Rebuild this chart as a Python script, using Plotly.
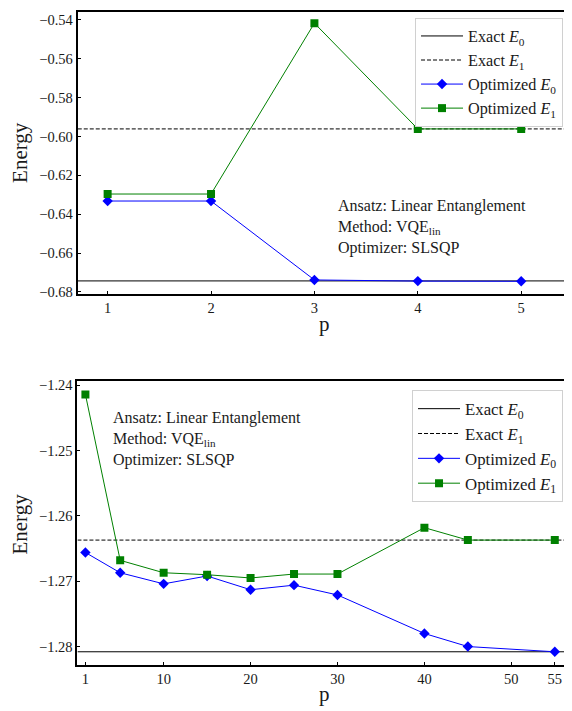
import plotly.graph_objects as go

# ---------------- data ----------------
p_top = [1, 2, 3, 4, 5]
e0_top = [-0.6332, -0.6332, -0.6738, -0.6744, -0.6745]
e1_top = [-0.6296, -0.6296, -0.5417, -0.5961, -0.5961]
exact_e0_top = -0.6743
exact_e1_top = -0.5961

p_bot = [1, 5, 10, 15, 20, 25, 30, 40, 45, 55]
e0_bot = [-1.2656, -1.2687, -1.2704, -1.2692, -1.2713, -1.2706, -1.2721, -1.2780, -1.2800, -1.2808]
e1_bot = [-1.2414, -1.2668, -1.2687, -1.2690, -1.2695, -1.2689, -1.2689, -1.2618, -1.2637, -1.2637]
exact_e0_bot = -1.2808
exact_e1_bot = -1.2637

xticks_top = [1, 2, 3, 4, 5]
yticks_top = [-0.54, -0.56, -0.58, -0.60, -0.62, -0.64, -0.66, -0.68]
xticks_bot = [1, 10, 20, 30, 40, 50, 55]
yticks_bot = [-1.24, -1.25, -1.26, -1.27, -1.28]

xrange_top = [0.711, 5.472]
yrange_top = [-0.6810, -0.53594]
xrange_bot = [0.084, 56.75]
yrange_bot = [-1.28276, -1.2394]

names = ["Exact <i>E</i><sub>0</sub>", "Exact <i>E</i><sub>1</sub>",
         "Optimized <i>E</i><sub>0</sub>", "Optimized <i>E</i><sub>1</sub>"]
info_text = "Ansatz: Linear Entanglement<br>Method: VQE<sub>lin</sub><br>Optimizer: SLSQP"

FONT = "Liberation Serif"
TXT = "#1a1a1a"

# page body has an 8px margin: work in window pixels
OFF = 8
W, H = 572 - OFF, 711 - OFF


def X(px):
    return min(1.0, max(0.0, (px - OFF) / W))


def Y(py):
    return min(1.0, max(0.0, 1 - (py - OFF) / H))


fig = go.Figure()


def add_panel(xs, e0, e1, ex0, ex1, xr, xa, ya, leg):
    fig.add_trace(go.Scatter(x=xr, y=[ex0, ex0], mode="lines", name=names[0],
                             line=dict(color="black", width=1), xaxis=xa, yaxis=ya,
                             legend=leg))
    fig.add_trace(go.Scatter(x=xr, y=[ex1, ex1], mode="lines", name=names[1],
                             line=dict(color="black", width=1, dash="4px,2px"),
                             xaxis=xa, yaxis=ya, legend=leg))
    fig.add_trace(go.Scatter(x=xs, y=e0, mode="lines+markers", name=names[2],
                             line=dict(color="#0000ff", width=1),
                             marker=dict(symbol="diamond", size=8, color="#0000ff"),
                             xaxis=xa, yaxis=ya, legend=leg))
    fig.add_trace(go.Scatter(x=xs, y=e1, mode="lines+markers", name=names[3],
                             line=dict(color="#008000", width=1),
                             marker=dict(symbol="square", size=8, color="#008000"),
                             xaxis=xa, yaxis=ya, legend=leg))


add_panel(p_top, e0_top, e1_top, exact_e0_top, exact_e1_top, xrange_top, "x", "y", "legend")
add_panel(p_bot, e0_bot, e1_bot, exact_e0_bot, exact_e1_bot, xrange_bot, "x2", "y2", "legend2")

axis_common = dict(showline=True, linewidth=2, linecolor="black", mirror=True,
                   ticks="inside", ticklen=3, tickwidth=1, tickcolor="black",
                   showgrid=False, zeroline=False,
                   tickfont=dict(family=FONT, size=14.5, color=TXT))


def fmt(v, nd):
    s = f"{abs(v):.{nd}f}"
    return ("\u2212" + s) if v < 0 else s


legend_common = dict(xanchor="right", yanchor="top", bgcolor="white",
                     bordercolor="#d0d0d0", borderwidth=1, tracegroupgap=0,
                     itemwidth=42)

fig.update_layout(
    width=W, height=H,
    margin=dict(l=0, r=0, t=0, b=0),
    paper_bgcolor="white", plot_bgcolor="white",
    font=dict(family=FONT, color=TXT),
    xaxis=dict(domain=[X(78), 1.0], range=xrange_top, anchor="y",
               tickvals=xticks_top, ticktext=[str(v) for v in xticks_top], **axis_common),
    yaxis=dict(domain=[Y(294), Y(8)], range=yrange_top, anchor="x",
               tickvals=yticks_top, ticktext=[fmt(v, 2) for v in yticks_top], **axis_common),
    xaxis2=dict(domain=[X(77.7), 1.0], range=xrange_bot, anchor="y2",
                tickvals=xticks_bot, ticktext=[str(v) for v in xticks_bot], **axis_common),
    yaxis2=dict(domain=[Y(670), Y(382.7)], range=yrange_bot, anchor="x2",
                tickvals=yticks_bot, ticktext=[fmt(v, 2) for v in yticks_bot], **axis_common),
    legend=dict(x=X(565), y=Y(14), font=dict(family=FONT, size=16.2, color=TXT), **legend_common),
    legend2=dict(x=X(565), y=Y(391.7), font=dict(family=FONT, size=16.8, color=TXT), **legend_common),
    showlegend=True,
)

ann_font = dict(family=FONT, size=16, color=TXT)
title_font = dict(family=FONT, size=21, color=TXT)
fig.add_annotation(text=info_text, xref="paper", yref="paper", x=X(336.7), y=Y(194),
                   xanchor="left", yanchor="top", align="left", showarrow=False, font=ann_font)
fig.add_annotation(text=info_text, xref="paper", yref="paper", x=X(111.7), y=Y(409),
                   xanchor="left", yanchor="top", align="left", showarrow=False, font=ann_font)
for yc in (150, 527):
    fig.add_annotation(text="Energy", xref="paper", yref="paper", x=X(20), y=Y(yc),
                       xanchor="center", yanchor="middle", textangle=-90, showarrow=False,
                       font=title_font)
for yc in (325, 700):
    fig.add_annotation(text="p", xref="paper", yref="paper", x=X(326), y=Y(yc),
                       xanchor="center", yanchor="middle", showarrow=False, font=title_font)

fig.write_html("out.html")
